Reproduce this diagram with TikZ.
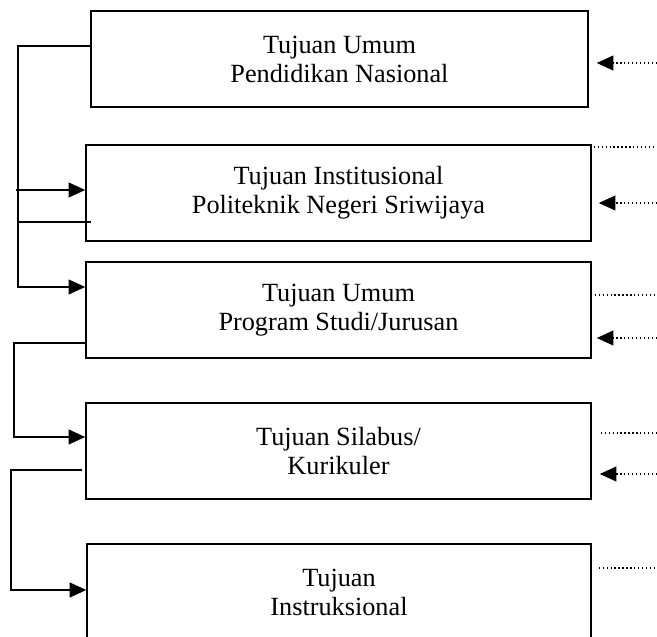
\documentclass[tikz,border=0pt]{standalone}
\usepackage{fontspec}
\setmainfont{Liberation Serif}
\usepackage{tikz}
\usetikzlibrary{positioning,calc,arrows.meta}

\tikzset{
    goal/.style={draw, line width=0.7pt, minimum width=230.8pt, minimum height=43.9pt,
        align=center, font=\fontsize{12}{13.3}\selectfont},
    wire/.style={line width=0.7pt},
    dots/.style={line width=0.6pt, dash pattern=on 0.6pt off 1.2pt},
    tip/.style={-{Triangle[length=7.6pt,width=6.8pt]}}
}

\begin{document}
\begin{tikzpicture}[x=0.457pt,y=-0.457pt]
    \useasboundingbox (0,0) rectangle (657,637);
    \clip (0,0) rectangle (657,637);

    % Goal boxes
    \node[goal, minimum width=227.1pt] (umum) at (339.5,59) {Tujuan Umum\\Pendidikan Nasional};
    \node[goal] (inst) at (338.5,193) {Tujuan Institusional\\Politeknik Negeri Sriwijaya};
    \node[goal] (prodi) at (338.5,310) {Tujuan Umum\\Program Studi/Jurusan};
    \node[goal] (silabus) at (338.5,451) {Tujuan Silabus/\\Kurikuler};
    \node[goal, minimum width=230.3pt] (instr) at (339,592) {Tujuan\\Instruksional};

    % Left connectors
    \coordinate (a1) at (16,190);
    \coordinate (a2) at (18,287);
    \coordinate (a3) at (17,222);
    \draw[wire, tip] ($(umum.west)+(0,-13)$) -| (a2) -- (a2 -| prodi.west);
    \draw[wire, tip] (a1) -- (a1 -| inst.west);
    \draw[wire] (a3) -- ($(a3 -| inst.west)+(6,0)$);

    \coordinate (b1) at (14,437);
    \draw[wire, tip] ($(prodi.west)+(0,33)$) -| (b1) -- (b1 -| silabus.west);

    \coordinate (c1) at (11,590);
    \draw[wire, tip] ($(silabus.west)+(-3,19)$) -| (c1) -- (c1 -| instr.west);

    % Right dotted lines
    \coordinate (r1) at (657,63);
    \coordinate (r2) at (657,147);
    \coordinate (r3) at (657,203);
    \coordinate (r4) at (657,295);
    \coordinate (r5) at (657,338);
    \coordinate (r6) at (657,433);
    \coordinate (r7) at (657,474);
    \coordinate (r8) at (657,568);
    \draw[dots, tip] (r1) -- ($(r1 -| umum.east)+(8,0)$);
    \draw[dots] ($(r2 -| inst.east)+(2,0)$) -- (r2);
    \draw[dots, tip] (r3) -- ($(r3 -| inst.east)+(7,0)$);
    \draw[dots] ($(r4 -| prodi.east)+(3,0)$) -- (r4);
    \draw[dots, tip] (r5) -- ($(r5 -| prodi.east)+(5,0)$);
    \draw[dots] ($(r6 -| silabus.east)+(9,0)$) -- (r6);
    \draw[dots, tip] (r7) -- ($(r7 -| silabus.east)+(8,0)$);
    \draw[dots] ($(r8 -| instr.east)+(7,0)$) -- (r8);

\end{tikzpicture}
\end{document}
